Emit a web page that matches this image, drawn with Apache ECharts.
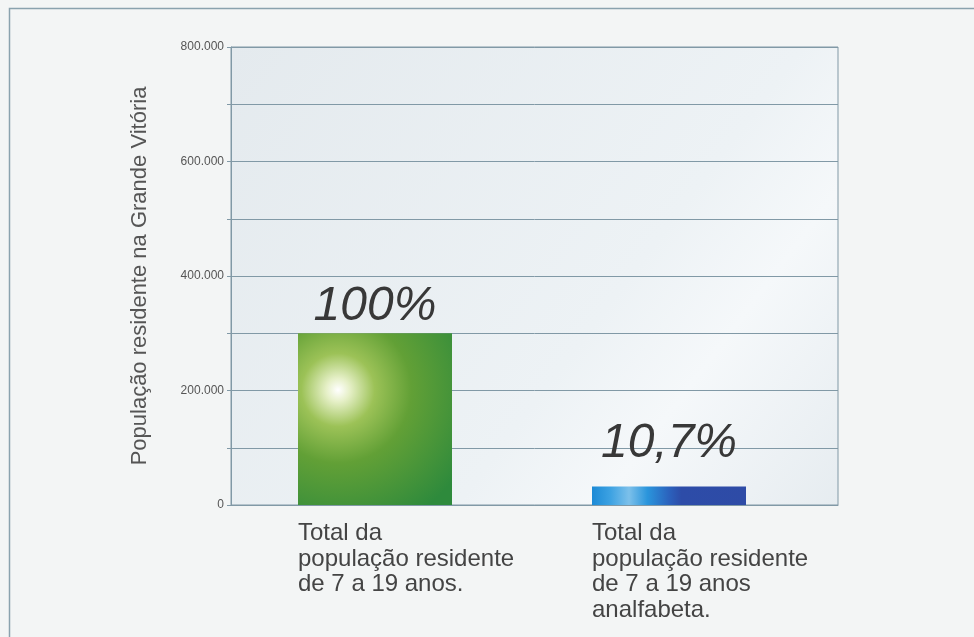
<!DOCTYPE html>
<html>
<head>
<meta charset="utf-8">
<script src="https://cdn.jsdelivr.net/npm/echarts@6/dist/echarts.min.js"></script>
<style>
  html, body { margin: 0; padding: 0; background: #f3f5f5; }
  #chart { width: 974px; height: 637px; }
</style>
</head>
<body>
<div id="chart"></div>
<script>
  // dados
  var categories = [
    'Total da\npopulação residente\nde 7 a 19 anos.',
    'Total da\npopulação residente\nde 7 a 19 anos\nanalfabeta.'
  ];
  var values = [300000, 32100];
  var percentLabels = ['100%', '10,7%'];
  var yTicks = [0, 200000, 400000, 600000, 800000];
  var yName = 'População residente na Grande Vitória';

  var lineColor = '#8199a6';
  var textColor = '#555';

  function fmt(v) {
    return String(v).replace(/\B(?=(\d{3})+(?!\d))/g, '.');
  }

  var barColors = [
    {
      type: 'radial', x: 0.26, y: 0.33, r: 0.95,
      colorStops: [
        { offset: 0, color: '#ffffff' },
        { offset: 0.08, color: '#e6f0c8' },
        { offset: 0.25, color: '#9cc257' },
        { offset: 0.5, color: '#62a036' },
        { offset: 1, color: '#2e8a3c' }
      ]
    },
    {
      type: 'linear', x: 0, y: 0, x2: 1, y2: 0,
      colorStops: [
        { offset: 0, color: '#1c8ad6' },
        { offset: 0.12, color: '#3da2e2' },
        { offset: 0.24, color: '#7cc0ea' },
        { offset: 0.36, color: '#2a95dc' },
        { offset: 0.5, color: '#2b62bd' },
        { offset: 0.58, color: '#2d4ca8' },
        { offset: 1, color: '#2e4ba6' }
      ]
    }
  ];
  var labelDist = [3, 19];
  var labelSize = [48, 48];

  var barData = values.map(function (v, i) {
    return {
      value: v,
      itemStyle: { color: barColors[i] },
      label: { distance: labelDist[i], fontSize: labelSize[i] }
    };
  });

  var myChart = echarts.init(document.getElementById('chart'));
  var option = {
    animation: false,
    backgroundColor: '#f3f5f5',
    textStyle: { fontFamily: 'Liberation Sans, Arial, sans-serif' },
    graphic: [
      {
        type: 'rect', left: 7, top: 6, z: -10,
        shape: { width: 1000, height: 700 },
        style: { fill: 'none', stroke: '#8aa2ae', lineWidth: 1.5 }
      }
    ],
    grid: [
      {
        left: 231, right: 136, top: 47, bottom: 132,
        show: true,
        borderColor: lineColor,
        borderWidth: 1,
        backgroundColor: {
          type: 'linear', x: 0, y: 0, x2: 1, y2: 1,
          colorStops: [
            { offset: 0, color: '#e4eaee' },
            { offset: 0.6, color: '#edf2f5' },
            { offset: 0.75, color: '#f5f8fa' },
            { offset: 1, color: '#e6ecf0' }
          ]
        }
      },
      { left: 228, right: 158, top: 47, bottom: 132 }
    ],
    xAxis: [
      {
        type: 'category', gridIndex: 0, data: categories,
        axisLine: { show: true, lineStyle: { color: lineColor } },
        axisTick: { show: false },
        axisLabel: { show: false }
      },
      {
        type: 'category', gridIndex: 1, data: categories,
        axisLine: { show: false },
        axisTick: { show: false },
        axisLabel: {
          margin: 16,
          formatter: function (v) {
            return v.split('\n').map(function (s) { return '{a|' + s + '}'; }).join('\n');
          },
          rich: {
            a: { width: 154, align: 'left', fontSize: 24, lineHeight: 25.5, color: '#444' }
          }
        }
      }
    ],
    yAxis: [
      {
        type: 'value', gridIndex: 0,
        min: 0, max: 800000, interval: 100000,
        name: yName,
        nameLocation: 'middle',
        nameGap: 80,
        nameTextStyle: { fontSize: 22, color: textColor },
        axisLine: { show: true, lineStyle: { color: lineColor } },
        axisTick: { show: true, length: 4, lineStyle: { color: lineColor } },
        splitLine: { show: true, lineStyle: { color: lineColor, width: 1 } },
        axisLabel: {
          margin: 7,
          fontSize: 12,
          color: textColor,
          formatter: function (v) {
            return yTicks.indexOf(v) >= 0 ? fmt(v) : '';
          }
        }
      },
      {
        type: 'value', gridIndex: 1,
        min: 0, max: 800000, show: false
      }
    ],
    series: [
      {
        type: 'bar',
        xAxisIndex: 1, yAxisIndex: 1,
        barWidth: 154,
        data: barData,
        label: {
          show: true,
          position: 'top',
          fontStyle: 'italic',
          color: '#383838',
          formatter: function (p) { return percentLabels[p.dataIndex]; }
        }
      }
    ]
  };
  myChart.setOption(option);
</script>
</body>
</html>
